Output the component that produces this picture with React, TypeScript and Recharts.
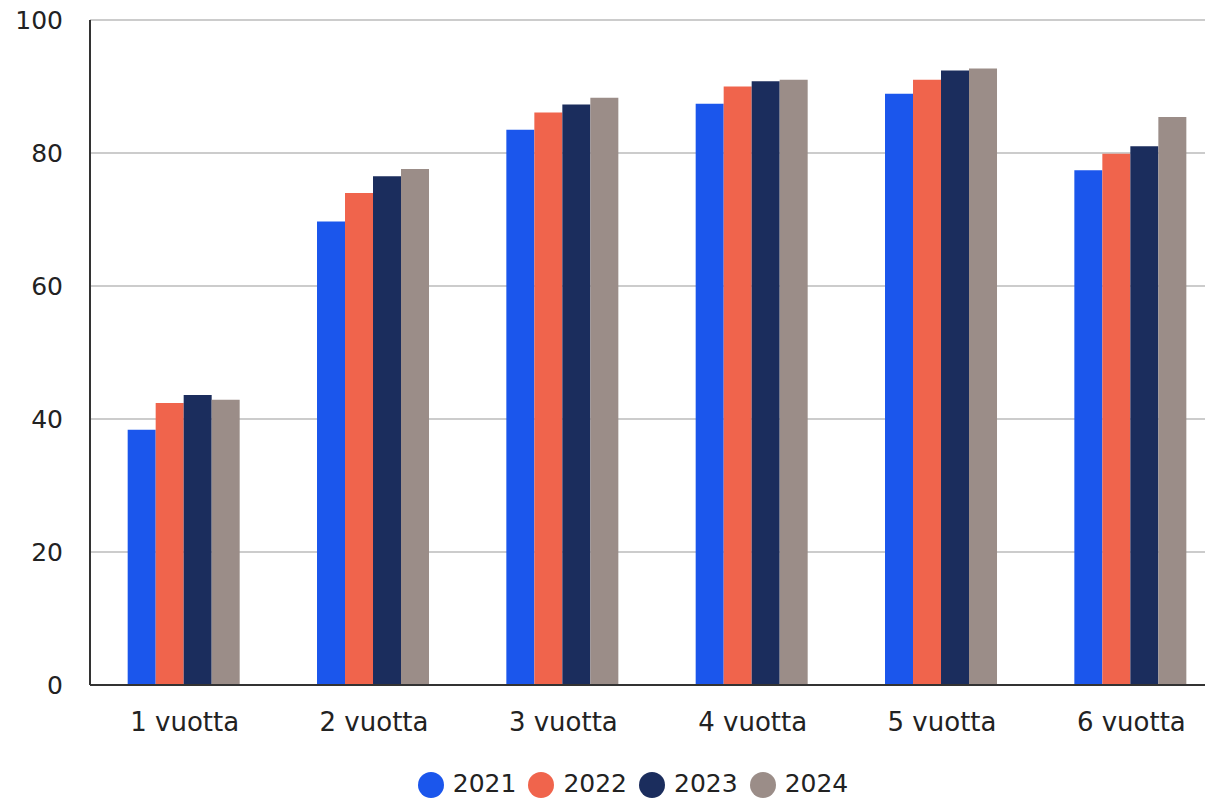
import React from "react"
import { BarChart, Bar, XAxis, YAxis, CartesianGrid, Legend } from "recharts"

const categories = ["1 vuotta", "2 vuotta", "3 vuotta", "4 vuotta", "5 vuotta", "6 vuotta"]
const years = ["2021", "2022", "2023", "2024"]
const values2021 = [38.4, 69.7, 83.5, 87.4, 88.9, 77.4]
const values2022 = [42.4, 74.0, 86.1, 90.0, 91.0, 79.9]
const values2023 = [43.6, 76.5, 87.3, 90.8, 92.4, 81.0]
const values2024 = [42.9, 77.6, 88.3, 91.0, 92.7, 85.4]
const yTicks = [0, 20, 40, 60, 80, 100]

const colors = ["#1b56ec", "#f0644c", "#1b2d5d", "#9b8d88"]
const series = [values2021, values2022, values2023, values2024]

const data = categories.map((name, i) => {
  const row: Record<string, string | number> = { name }
  years.forEach((y, j) => {
    row[y] = series[j][i]
  })
  return row
})

const font = "'DejaVu Sans', Verdana, sans-serif"

export default function App() {
  return (
    <div style={{ position: "absolute", left: 0, top: 0, width: 1205, height: 802, overflow: "hidden", fontFamily: font }}>
      <BarChart
        width={1226}
        height={802}
        data={data}
        margin={{ top: 20, right: 0, left: 1, bottom: 4 }}
        barCategoryGap="19.9%"
        barGap={0}
      >
        <CartesianGrid vertical={false} stroke="#cccccc" strokeWidth={2} />
        <XAxis
          dataKey="name"
          tickLine={false}
          axisLine={{ stroke: "#333333", strokeWidth: 2 }}
          tick={{ fill: "#222222", fontSize: 26, fontFamily: font }}
          tickMargin={22}
          height={84}
          interval={0}
        />
        <YAxis
          domain={[0, 100]}
          ticks={yTicks}
          tickLine={false}
          axisLine={{ stroke: "#333333", strokeWidth: 2 }}
          tick={{ fill: "#222222", fontSize: 25, fontFamily: font }}
          tickSize={0}
          tickMargin={27}
          width={89}
        />
        <Legend
          verticalAlign="bottom"
          iconType="circle"
          iconSize={26}
          wrapperStyle={{ fontSize: 25, fontFamily: font, width: 1278, left: 0 }}
          formatter={(value: string) => (
            <span style={{ color: "#222222", marginLeft: 5, marginRight: 2 }}>{value}</span>
          )}
        />
        {years.map((y, j) => (
          <Bar key={y} dataKey={y} fill={colors[j]} isAnimationActive={false} />
        ))}
      </BarChart>
    </div>
  )
}
